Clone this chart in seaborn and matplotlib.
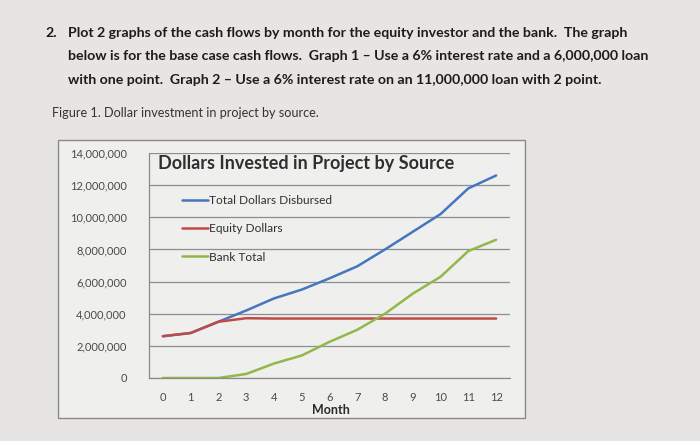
import numpy as np
import pandas as pd
import matplotlib
matplotlib.use("Agg")
import matplotlib.pyplot as plt
from matplotlib.patches import Rectangle
import seaborn as sns

# ---- data ----
months = list(range(13))
total_disbursed = [2.6e6, 2.8e6, 3.5e6, 4.2e6, 4.95e6, 5.5e6, 6.2e6, 6.95e6, 8.0e6, 9.1e6, 10.2e6, 11.8e6, 12.6e6]
equity_dollars = [2.6e6, 2.8e6, 3.5e6, 3.72e6, 3.7e6, 3.7e6, 3.7e6, 3.7e6, 3.7e6, 3.7e6, 3.7e6, 3.7e6, 3.7e6]
bank_total = [0, 0, 0, 0.25e6, 0.9e6, 1.4e6, 2.25e6, 3.0e6, 4.0e6, 5.25e6, 6.3e6, 7.9e6, 8.6e6]
series_names = ["Total Dollars Disbursed", "Equity Dollars", "Bank Total"]
y_ticks = [0, 2e6, 4e6, 6e6, 8e6, 10e6, 12e6, 14e6]
y_tick_labels = ["0", "2,000,000", "4,000,000", "6,000,000", "8,000,000",
                 "10,000,000", "12,000,000", "14,000,000"]
chart_title = "Dollars Invested in Project by Source"
x_label = "Month"

question_num = "2."
question_lines = [
    "Plot 2 graphs of the cash flows by month for the equity investor and the bank.  The graph",
    "below is for the base case cash flows.  Graph 1 \u2013 Use a 6% interest rate and a 6,000,000 loan",
    "with one point.  Graph 2 \u2013 Use a 6% interest rate on an 11,000,000 loan with 2 point.",
]
caption = "Figure 1. Dollar investment in project by source."

df = pd.DataFrame({
    "Month": months * 3,
    "Dollars": total_disbursed + equity_dollars + bank_total,
    "Series": [series_names[0]] * 13 + [series_names[1]] * 13 + [series_names[2]] * 13,
})

sns.set_style("white")
plt.rcParams["font.family"] = ["Lato", "DejaVu Sans"]

W, H = 700, 441
fig = plt.figure(figsize=(7, 4.41), dpi=100)
fig.patch.set_facecolor("#e7e5e3")

# background axes holding the chart box
bg = fig.add_axes([0, 0, 1, 1], zorder=-10)
bg.set_xlim(0, W)
bg.set_ylim(H, 0)
bg.axis("off")
bg.add_patch(Rectangle((58, 140), 525 - 58, 418 - 140, facecolor="#efefed",
                       edgecolor="#8a8a8a", linewidth=1.0))

# question text
txt_col = "#1c1c1c"
fig.text(45 / W, 1 - 33 / H, question_num, fontsize=10.2, fontweight="bold", color=txt_col, va="center")
for i, line in enumerate(question_lines):
    fig.text(68 / W, 1 - (33 + 23.5 * i) / H, line, fontsize=10.2, fontweight="bold",
             color=txt_col, va="center")
fig.text(52 / W, 1 - 113 / H, caption, fontsize=9.1, color="#333333", va="center")

# plot area
left, right, top, bottom = 149, 510, 153, 378
ax = fig.add_axes([left / W, 1 - bottom / H, (right - left) / W, (bottom - top) / H], zorder=1)
ax.set_facecolor("none")

palette = {series_names[0]: "#4477bf", series_names[1]: "#be4b48", series_names[2]: "#93b84a"}
sns.lineplot(data=df, x="Month", y="Dollars", hue="Series", palette=palette,
             linewidth=1.8, ax=ax, legend=True)

ax.set_xlim(-0.5, 12.5)
ax.set_ylim(0, 14e6)
ax.set_yticks(y_ticks)
ax.set_yticklabels(y_tick_labels)
ax.set_xticks(months)
ax.set_xticklabels([str(m) for m in months])
ax.set_xticks(np.arange(-0.5, 13, 1), minor=True)
ax.tick_params(axis="x", which="major", length=0, pad=10, labelsize=8, labelcolor="#4a4a4a")
ax.tick_params(axis="x", which="minor", length=4, direction="out", color="#8a8a8a", width=0.8)
ax.tick_params(axis="y", which="major", length=4, direction="out", color="#8a8a8a", width=0.8,
               pad=12, labelsize=8, labelcolor="#4a4a4a")
ax.yaxis.grid(True, color="#8e8e8e", linewidth=0.9)
ax.xaxis.grid(False)
for s in ["top", "right"]:
    ax.spines[s].set_visible(False)
for s in ["left", "bottom"]:
    ax.spines[s].set_color("#8a8a8a")
    ax.spines[s].set_linewidth(0.9)
ax.set_xlabel("")
ax.set_ylabel("")

fig.text(331 / W, 1 - 410 / H, x_label, fontsize=9, fontweight="bold", color="#2a2a2a",
         ha="center", va="center")
fig.text(306 / W, 1 - 164 / H, chart_title, fontsize=13, fontweight="bold", color="#2f2f2f",
         ha="center", va="center")

handles, labels = ax.get_legend_handles_labels()
leg = ax.legend(handles, labels, loc="upper left", bbox_to_anchor=(182 / W, 1 - 195 / H),
                bbox_transform=fig.transFigure, frameon=False, fontsize=8.6,
                handlelength=2.2, handletextpad=0.1, labelspacing=1.45,
                borderpad=0, borderaxespad=0)
for t in leg.get_texts():
    t.set_color("#2f2f2f")

fig.savefig("out.png", dpi=100, facecolor=fig.get_facecolor())
